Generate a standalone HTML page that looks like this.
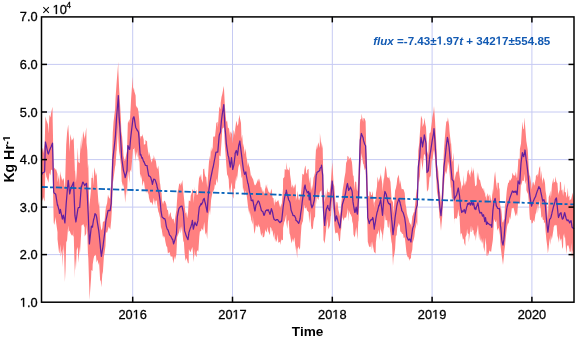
<!DOCTYPE html>
<html><head><meta charset="utf-8"><style>
html,body{margin:0;padding:0;background:#fff;}
body{width:575px;height:337px;overflow:hidden;}
svg{display:block;font-family:"Liberation Sans",sans-serif;will-change:transform;}
text.t{stroke:#000;stroke-width:0.3px;}
</style></head><body>
<svg width="575" height="337" viewBox="0 0 575 337">
<line x1="132.7" y1="16.9" x2="132.7" y2="302.2" stroke="#c6caf3" stroke-width="1"/>
<line x1="232.5" y1="16.9" x2="232.5" y2="302.2" stroke="#c6caf3" stroke-width="1"/>
<line x1="332.3" y1="16.9" x2="332.3" y2="302.2" stroke="#c6caf3" stroke-width="1"/>
<line x1="432.1" y1="16.9" x2="432.1" y2="302.2" stroke="#c6caf3" stroke-width="1"/>
<line x1="531.9" y1="16.9" x2="531.9" y2="302.2" stroke="#c6caf3" stroke-width="1"/>
<line x1="41.5" y1="254.6" x2="574.0" y2="254.6" stroke="#c6caf3" stroke-width="1"/>
<line x1="41.5" y1="207.1" x2="574.0" y2="207.1" stroke="#c6caf3" stroke-width="1"/>
<line x1="41.5" y1="159.6" x2="574.0" y2="159.6" stroke="#c6caf3" stroke-width="1"/>
<line x1="41.5" y1="112.0" x2="574.0" y2="112.0" stroke="#c6caf3" stroke-width="1"/>
<line x1="41.5" y1="64.4" x2="574.0" y2="64.4" stroke="#c6caf3" stroke-width="1"/>
<polygon points="41.5,147.4 42.6,148.7 43.1,153.3 44.6,143.9 44.7,144.2 45.4,116.3 46.3,120 47.9,124.3 48.4,133.7 49.5,114.7 50.5,117.4 51.1,113 52.5,106.8 52.7,122 53.7,170.2 54.3,167.5 55.6,170.1 55.9,168.6 57.5,173.9 57.5,182.6 59.1,174.3 59.5,186.2 60.4,171 60.7,174.3 62.3,181.2 62.4,180 63.3,177.9 63.9,179.7 64.9,190.2 65.5,169.3 66.2,144.8 67.1,132.6 68.2,124.4 68.7,132.4 69.7,151.9 70.3,134.1 71.6,140.2 71.9,140.5 73.5,137.9 73.6,135.5 74.9,171.3 75.1,170.2 75.9,182.8 76.7,172.8 77.8,147.3 78.3,162 79.7,163.3 79.9,155.5 81.3,136 81.5,149.4 82.6,138.7 83.1,130.9 84.6,137.9 84.7,139.3 86.3,127.2 86.5,142.7 87.3,150.4 87.9,168.2 88.3,163.4 89.4,214 89.5,205.2 91.1,188.3 91.4,177.7 92.5,178.1 92.7,170.9 93.5,185.6 94.3,167.3 95,170.7 95.9,175.9 96.6,172.5 97.5,189.7 98.7,205.7 99.1,201.2 100.2,222.3 100.7,226.1 101.4,230.5 102.3,228.1 102.9,222 103.9,221.3 104.5,221.2 105.5,210.5 106,207.1 107.1,202.9 108,194.6 108.7,196.9 110.1,198.9 110.3,190.5 111.2,184.6 111.9,161.6 112.8,132.6 113.5,122.3 115.1,108.9 115.5,98.6 116.5,84.4 116.7,81.8 118.3,61.7 118.3,69.8 119.1,87.8 119.9,101.6 120.9,118.5 121.5,136.4 121.7,131.3 123.1,149.6 123.5,155.7 124.7,161.1 125.2,159.8 126.3,153.9 127,151 127.9,120.7 127.9,123.2 129.5,119.1 129.7,123.9 130.6,108.6 131.1,98.7 132.7,76.8 133,90.4 133.9,87.3 134.3,91.3 135.6,95.5 135.9,105.2 137.4,108.4 137.5,106.5 138.5,112 139.1,118.3 139.3,120.8 140.2,138.9 140.7,135.9 142,136.6 142.3,133.9 143.7,139.6 143.9,144.8 145.4,144.1 145.5,140 147.1,141.4 147.2,144.8 148.7,156.6 148.9,151.4 150.3,156.8 150.7,159.5 151.9,162.8 152.4,158.7 153.5,158.5 153.8,155.1 155.1,161.3 155.5,158.3 156.7,166.9 157.3,169.2 158.3,165.5 159,172.5 159.9,182.9 160.2,183.9 161.1,192.8 161.5,192.3 162,200.3 163.1,204.5 163.7,201.5 164.7,200.6 165.4,202.1 166.3,204.5 167.2,210.2 167.9,209.5 168.9,217.6 169.5,214.5 170.7,211.9 171.1,216 172.4,219.5 172.7,219.3 173.6,218.5 174.3,224.1 175,219.1 175.9,212.7 176.4,210.2 177.3,196.2 177.5,192.4 178.5,188.2 179.1,184.2 180.2,183.1 180.7,185.8 182,181.5 182.3,179.7 183.3,191.5 183.9,197.3 184.6,204.7 185.5,213.6 186.3,212 187.1,218.2 188,212.7 188.7,201.8 188.9,200.3 190.3,201.4 190.7,195.8 191.9,192.6 192.4,189.3 193.3,190 193.5,203.1 195,186.5 195.1,192.6 196.7,189.8 196.7,194.9 198,194.3 198.3,186.3 199.3,175.5 199.9,178 201.1,173.7 201.5,179.1 202.8,183.1 203.1,169.2 204.2,168.5 204.7,173.7 205.4,176.6 206.3,177.3 207.2,187.8 207.9,177.5 208.6,166.9 209.5,155.6 210,161.8 211.1,146.6 211.5,151.8 212.7,147.6 213.2,137.1 214.3,136.1 214.9,137.6 215.9,128.3 216.3,122.9 217.5,121.7 217.8,127.9 219.1,109 219.3,106.3 220.5,109.4 220.7,103 221.5,97.1 222.3,94.1 223.8,86 223.9,86.7 224.9,106 225.5,113.2 226.3,122.1 227.1,120.6 228,128.4 228.7,127.4 229.1,128.9 230.3,138.1 230.3,131.3 231.5,133.9 231.9,130.9 232.7,143.5 233.5,131.1 233.9,130.1 235.1,135.5 235.1,129.8 236.3,120.9 236.7,121.8 237.5,126.3 238.3,123.8 238.7,119 239.9,114.6 239.9,118.1 241,123.1 241.5,138.9 242.2,134.4 243.1,147.6 243.4,143.2 244.6,152.4 244.7,154.6 245.8,148.3 246.3,156.1 247,160 247.9,166.6 248.2,161.9 249.4,167.4 249.5,166.1 251.1,177.4 251.1,174.8 252.7,178.9 252.8,178.1 254.3,184.2 255,185.5 255.9,184.4 256.8,182.5 257.5,180.7 258.2,178.5 259.1,182.8 259.6,178.3 260.7,187.2 261.4,187.3 262.3,192.6 262.8,189.1 263.9,193.1 264.3,195.5 265.5,184.1 265.7,188.9 267.1,183.9 267.1,187.1 268.5,191.6 268.7,191.9 270,193.1 270.3,193.2 271.4,188.6 271.9,191 272.5,197.6 273.5,198.3 274.2,206.1 275.1,198.8 275.7,202.6 276.7,201.7 277.8,200.4 278.3,199.9 279.9,206.8 280.1,207.9 281.5,203.2 281.6,206.9 283,188.6 283.1,178.4 284.4,177.1 284.7,169 286.3,169.9 286.3,161.9 287.3,169.2 287.9,169.5 288.7,170.4 289.5,166.6 290.1,174.8 291.1,182.2 291.5,187.8 292.7,184.2 293,189 294.3,184.4 294.4,188 295.8,183.3 295.9,200.7 297.2,194.9 297.5,190.8 298.7,199.4 299.1,200.5 300.1,196.4 300.7,195.8 301.5,187.3 302.3,174.3 302.9,173.7 303.9,175 304.4,169.7 305.1,166.2 305.5,165.4 306.2,172.5 307.1,174.1 307.2,170.1 308.6,168.8 308.7,174.9 309.3,183.4 310,177.4 310.3,177.6 311,190.9 311.9,185.6 311.9,189.5 312.9,184.2 313.5,177.8 314.3,175.6 315.1,171.9 315.3,162.2 316.2,145.1 316.7,150.1 317.2,148 318.3,142.3 319.8,148 319.9,133 321.5,148.1 321.5,141.3 322.7,148.4 323.1,167 323.5,183.6 324.7,202.2 324.7,202.4 326.1,189.5 326.3,197.3 327.8,187.7 327.9,191.7 329.5,192.6 329.6,192.5 330.8,183.5 331.1,179 332.2,161.9 332.7,168.4 333.6,183.7 334.3,186.3 335.3,201.2 335.9,208.2 336.5,201.7 337.5,202.4 338.3,209.4 339.1,212.7 340,216.4 340.7,209.6 341.2,204.2 342.3,194.1 342.6,190.4 343.9,182.3 344.3,178.7 345.5,171.9 346.1,163.1 347.1,160.4 347.5,155.8 348.7,157.1 348.7,159.7 350.3,157.4 350.4,157.1 351.9,162.1 352.2,164.9 353,175.9 353.5,175.2 354.8,190.6 355.1,181.4 356.2,182.1 356.7,189.1 357.4,191.5 358.3,179.2 358.6,172.2 359.7,136.4 359.9,124 360.3,119.4 361.4,118.4 361.5,113.6 363.1,122 363.5,118 364.7,118.4 365.6,121.5 366.3,149.3 366.6,155.1 367.3,169.6 367.8,194.4 367.9,195.5 369.3,196.8 369.5,191.3 370.6,191.9 371.1,195.5 371.9,194.7 372.7,191 373,195.9 374.3,208.3 374.3,202.9 375.6,199.2 375.9,193.5 377,186.6 377.5,176.5 378.9,182.6 379.1,180.4 380.7,174.7 380.7,172.7 382.3,184 382.5,191.8 383.8,177.6 383.9,179.9 384.9,169.9 385.5,165.6 386.2,168.9 387.1,177.1 387.7,177.6 388.7,178.2 389,176.1 390.3,181.9 390.3,179.3 391.7,201.2 391.9,200 393,202.5 393.5,213.5 394.5,199 395.1,190.5 395.8,188.4 396.7,184.2 397.3,178.5 398.3,175.8 398.7,174.6 399.9,184.6 400.2,180 401.5,188.3 401.8,189.3 403.1,188.9 403.7,189.7 404.7,192.9 405.5,203.8 406.3,207.9 406.8,213 407.9,217.2 408.3,218.1 409.5,222.7 409.7,222.8 411,225 411.1,228 412.3,216.6 412.7,215.6 413.8,212.2 414.3,212 415.3,202.3 415.9,196 416.6,190.2 417.3,186.7 417.5,179.2 418.3,150.4 419.1,144.4 419.6,137.4 420.7,121.7 421,115.6 422.3,119.3 422.5,127.1 423.9,123.1 424.3,117.4 425.5,125 426,127.1 427,148.3 427.1,151.1 428.3,154.9 428.7,143.8 429.5,133.5 430.3,132.3 430.5,132.9 431.9,121.8 432.3,117.5 433.5,111.6 434,105.9 435.1,122.1 435.2,124.3 436.1,140.1 436.7,152.8 437,164.3 438.2,171.1 438.3,172.1 439.6,191.8 439.9,191.6 441,202.5 441.5,198 442.2,186.5 443.1,168.5 443.9,150.4 444.7,139.6 445.7,127.4 446.3,121.6 447.4,121.3 447.9,117.2 449.1,124.9 449.5,131.3 450.9,144.1 451.1,142.9 452.1,159.2 452.7,161.9 453.5,152.6 454.3,179.5 454.3,181.3 455.9,173.5 456.6,171.6 457.5,171.7 458.3,163.1 459.1,172 459.5,175.5 460.6,182.7 460.7,180.6 461.7,190.1 462.3,184.4 463,186.4 463.9,174.9 464.2,185.9 465.4,180.4 465.5,185.2 466.6,180 467.1,174.7 467.6,171.3 468.7,169.6 468.7,172.5 469.9,175.6 470.3,177.5 470.6,172.9 471.6,170 471.9,166.2 472.5,173.9 473.5,169.3 473.6,167.3 474.6,179.5 475.1,185.8 475.8,186.2 476.7,184.3 477,171.2 478,178.7 478.3,172.5 479.1,180.6 479.9,179.1 480.3,181.4 481.4,186.6 481.5,186.3 482.5,188.9 483.1,187.9 483.5,189.8 484.7,193.8 484.7,188 485.5,197.6 486.3,195 486.5,201.1 487.4,194.3 487.9,193.3 488.4,196.8 489.5,194.3 489.5,204.1 490.7,194.4 491.1,201 491.8,199.7 492.7,188.4 492.9,194.6 493.9,182.3 494.3,177.6 495.1,171.3 495.9,180.1 496.3,183.5 497.3,190.7 497.5,182.7 498.8,182.8 499.1,187.8 499.6,189.2 500.4,211.1 500.7,204.5 501.8,214 502.3,221.5 503,222.8 503.9,219.4 504.3,219.2 505.2,200.4 505.5,205 506.7,191.6 507.1,188.2 508.2,182.6 508.7,183.1 509.7,179.6 510.3,180.8 511.9,177.8 512.4,172.5 513.5,175.2 514.1,175.6 515.1,175.8 515.9,171.6 516.7,177.8 517.1,177.4 518.1,163.9 518.3,158.8 519.7,158.8 519.9,149 521,143.6 521.5,135.5 522.4,121.5 523.1,128.5 523.7,129.4 524.7,117.3 525,124.4 526.3,140.7 526.4,141.4 527.7,149.6 527.9,152 529,171.9 529.5,175.6 530,175.8 531.1,183.5 531.6,189.7 532.7,182.5 533.3,181.7 534.3,185.7 535.7,179.1 535.9,176.1 537.5,173.9 537.8,177.6 539,169.3 539.1,168.2 540.1,165.9 540.7,179.3 541.4,170.4 542.3,184 542.7,180.2 543.9,177.1 543.9,178.2 545,182.9 545.5,190.8 546.3,195.5 547.1,207 547.9,218.6 548.7,197.1 549.6,195.1 550.3,190.6 550.9,198.2 551.9,185.7 552,184.4 553.5,177.7 553.7,182.7 555.1,181.6 555.3,176.2 556.4,181.6 556.7,182.4 557.4,182.9 558.3,195.3 558.5,193.4 559.7,189.8 559.9,181.5 561,182.5 561.5,190.8 562.3,189.2 563.1,196 563.4,193.2 564.6,183.3 564.7,191.7 565.9,192.6 566.3,198.1 567.2,194.3 567.9,187.5 568.3,196.9 569.5,195.5 569.5,200.4 570.8,199.3 571.1,199.5 572.1,195.6 572.7,192.6 574,201.1 574,256.1 572.7,250 572.1,259.4 571.1,242.8 570.8,251.8 569.5,251.4 569.5,249.8 568.3,245 567.9,246.2 567.2,244.8 566.3,254 565.9,247.6 564.7,232.8 564.6,238.5 563.4,234.1 563.1,246.7 562.3,249 561.5,239.6 561,238.3 559.9,241.6 559.7,233.4 558.5,243.1 558.3,238.9 557.4,235.8 556.7,225.9 556.4,224.9 555.3,225.4 555.1,224.5 553.7,226.9 553.5,229.6 552,238.7 551.9,240.2 550.9,235.2 550.3,244.9 549.6,238 548.7,247.4 547.9,253.4 547.1,245 546.3,239.2 545.5,230 545,222.1 543.9,223.4 543.9,220.2 542.7,219.5 542.3,216.3 541.4,217.9 540.7,209 540.1,205.9 539.1,200.3 539,202.5 537.8,213.5 537.5,205 535.9,214.6 535.7,212.8 534.3,222.3 533.3,220.1 532.7,223 531.6,223.5 531.1,219.4 530,220.2 529.5,214.3 529,203.5 527.9,192.3 527.7,194 526.4,190.3 526.3,180.1 525,184.6 524.7,173.8 523.7,181 523.1,181 522.4,180.2 521.5,185.7 521,182.3 519.9,204.2 519.7,203.5 518.3,202.3 518.1,202.3 517.1,216.6 516.7,212.8 515.9,216.5 515.1,214.2 514.1,209.9 513.5,207.4 512.4,208.6 511.9,207.8 510.3,219.8 509.7,216.5 508.7,224.2 508.2,222.3 507.1,226.4 506.7,229.2 505.5,240 505.2,244.5 504.3,251.8 503.9,256.3 503,265.1 502.3,259.5 501.8,256.3 500.7,246.9 500.4,243.7 499.6,229.3 499.1,235.1 498.8,227.8 497.5,229.7 497.3,230.9 496.3,219.8 495.9,222.2 495.1,221.5 494.3,219.1 493.9,221.9 492.9,239.2 492.7,241.1 491.8,246.7 491.1,252.1 490.7,251.4 489.5,250.9 489.5,248.9 488.4,255.7 487.9,251.9 487.4,256 486.5,255.4 486.3,245.8 485.5,237.6 484.7,249.4 484.7,252.2 483.5,247 483.1,238.1 482.5,244.2 481.5,237.9 481.4,243.1 480.3,239.2 479.9,233.5 479.1,240.2 478.3,229.3 478,224.7 477,231.6 476.7,231.9 475.8,241.1 475.1,232.6 474.6,236.7 473.6,233.2 473.5,230.2 472.5,230.4 471.9,225.7 471.6,232.1 470.6,231.8 470.3,225.5 469.9,233.2 468.7,242.5 468.7,234.1 467.6,233.2 467.1,228.7 466.6,234.8 465.5,237.2 465.4,245.9 464.2,243.1 463.9,238.3 463,240.1 462.3,236 461.7,233.2 460.7,233.8 460.6,237.5 459.5,215.7 459.1,216.1 458.3,209.1 457.5,216.1 456.6,219.1 455.9,218.1 454.3,219 454.3,225 453.5,199.3 452.7,198 452.1,201.7 451.1,186.7 450.9,188.4 449.5,172.6 449.1,166.5 447.9,160.9 447.4,167.4 446.3,174.3 445.7,171.1 444.7,176.4 443.9,186.9 443.1,200.6 442.2,217.2 441.5,224.6 441,231 439.9,218.2 439.6,218.5 438.3,201.5 438.2,198.5 437,191.7 436.7,187.5 436.1,174 435.2,162.5 435.1,158.5 434,149.5 433.5,152.3 432.3,161.2 431.9,158.3 430.5,178.6 430.3,175.7 429.5,177.5 428.7,186.5 428.3,189.5 427.1,191.5 427,192.6 426,163.9 425.5,156.4 424.3,153.8 423.9,155.3 422.5,170.8 422.3,167.3 421,157.2 420.7,160 419.6,182.7 419.1,176.6 418.3,186.7 417.5,209.3 417.3,226 416.6,222 415.9,226.9 415.3,229 414.3,237 413.8,239.2 412.7,243.1 412.3,249.6 411.1,254.8 411,258.2 409.7,258.9 409.5,261.1 408.3,256.7 407.9,257.5 406.8,254.8 406.3,251.6 405.5,243.4 404.7,237.2 403.7,238.1 403.1,234.3 401.8,233.4 401.5,232.6 400.2,231.3 399.9,225.9 398.7,223 398.3,224.9 397.3,227.6 396.7,234.9 395.8,236.3 395.1,248.8 394.5,253.5 393.5,257.8 393,266.1 391.9,241.8 391.7,243.9 390.3,231.4 390.3,233 389,219.9 388.7,228.1 387.7,226.7 387.1,219.8 386.2,220.5 385.5,220 384.9,213.8 383.9,230.8 383.8,227.4 382.5,242 382.3,235 380.7,229.2 380.7,226.1 379.1,240 378.9,229.8 377.5,234.4 377,233.3 375.9,242.6 375.6,253.7 374.3,251.7 374.3,253.5 373,245.9 372.7,241.3 371.9,250.1 371.1,241.6 370.6,247 369.5,246.6 369.3,247.5 367.9,242.1 367.8,242.4 367.3,222.8 366.6,199.8 366.3,193 365.6,167.8 364.7,170.2 363.5,163.9 363.1,163.8 361.5,153.1 361.4,155.4 360.3,168.7 359.9,178.5 359.7,184.7 358.6,220.9 358.3,221.4 357.4,239.9 356.7,231.4 356.2,226.9 355.1,235.4 354.8,237.5 353.5,234.4 353,224.1 352.2,221.3 351.9,217.2 350.4,213.7 350.3,214.6 348.7,210.1 348.7,221.7 347.5,207.8 347.1,212.9 346.1,217.8 345.5,217.6 344.3,217.7 343.9,221.1 342.6,217.7 342.3,215 341.2,229.1 340.7,231.1 340,240.7 339.1,241.2 338.3,235 337.5,232.4 336.5,233.1 335.9,232.6 335.3,234 334.3,225.1 333.6,213 332.7,205.9 332.2,196.9 331.1,215.6 330.8,216.2 329.6,228.7 329.5,225.7 327.9,230.1 327.8,219.1 326.3,227.2 326.1,230.4 324.7,242.8 324.7,243.8 323.5,239.9 323.1,211.8 322.7,205.1 321.5,192.2 321.5,190.3 319.9,192.1 319.8,193.3 318.3,200.2 317.2,197 316.7,204.8 316.2,192.2 315.3,208 315.1,216.7 314.3,217.8 313.5,221.8 312.9,228.7 311.9,229 311.9,230.5 311,225.4 310.3,210.8 310,214.9 309.3,223.5 308.7,214.1 308.6,212.3 307.2,210.5 307.1,210.9 306.2,206.7 305.5,208.8 305.1,208 304.4,204.8 303.9,210.2 302.9,221.2 302.3,222.4 301.5,225.5 300.7,237 300.1,247.8 299.1,249.8 298.7,246.3 297.5,249.1 297.2,258.4 295.9,245.4 295.8,250.5 294.4,237.5 294.3,237.6 293,242.5 292.7,238.3 291.5,243.6 291.1,241 290.1,234.9 289.5,233.2 288.7,220.2 287.9,220.8 287.3,229.1 286.3,222 286.3,214.3 284.7,221.8 284.4,221.2 283.1,228 283,239.7 281.6,240.6 281.5,238.6 280.1,245.1 279.9,241.8 278.3,242.8 277.8,234.2 276.7,242.2 275.7,238.4 275.1,242 274.2,232.4 273.5,237.9 272.5,229.9 271.9,232.1 271.4,228.4 270.3,226.7 270,235.2 268.7,232.2 268.5,232 267.1,227 267.1,232.7 265.7,230.6 265.5,229 264.3,236.3 263.9,236.9 262.8,237.4 262.3,232.5 261.4,236.2 260.7,233.6 259.6,226.1 259.1,227.3 258.2,223.9 257.5,227.6 256.8,226.8 255.9,224.7 255,231.4 254.3,234.1 252.8,215.1 252.7,224.4 251.1,219.2 251.1,218.3 249.5,210.2 249.4,214.9 248.2,207.7 247.9,205.4 247,197.7 246.3,192.9 245.8,190.4 244.7,195.5 244.6,194.7 243.4,187.6 243.1,192 242.2,175.9 241.5,178.4 241,172.4 239.9,164.8 239.9,163.6 238.7,165.9 238.3,167.7 237.5,175.5 236.7,181.4 236.3,175.6 235.1,185.1 235.1,189.5 233.9,188.1 233.5,198.8 232.7,196.6 231.9,185.1 231.5,182.3 230.3,192.2 230.3,194.3 229.1,187.5 228.7,179.6 228,176.2 227.1,174.5 226.3,165.1 225.5,153.5 224.9,146.5 223.9,125.9 223.8,127.6 222.3,128.7 221.5,142.2 220.7,153.2 220.5,156.5 219.3,155.3 219.1,164.7 217.8,178.8 217.5,183.2 216.3,178.4 215.9,185.8 214.9,184.1 214.3,188.8 213.2,191.5 212.7,191.5 211.5,197.6 211.1,200 210,215.8 209.5,209.4 208.6,214.6 207.9,222.7 207.2,239.2 206.3,232.2 205.4,234.7 204.7,227.1 204.2,221.9 203.1,230.9 202.8,230.1 201.5,228.3 201.1,230.9 199.9,231.5 199.3,236.8 198.3,252.4 198,250 196.7,251.7 196.7,257.2 195.1,254.4 195,248.8 193.5,262.2 193.3,256.8 192.4,247 191.9,248.3 190.7,251.4 190.3,252.2 188.9,249 188.7,263 188,263.4 187.1,259.9 186.3,258.1 185.5,260.9 184.6,252.9 183.9,241.9 183.3,241.3 182.3,231.2 182,226.1 180.7,233.5 180.2,227.1 179.1,232.2 178.5,233.4 177.5,236.9 177.3,233.6 176.4,254.5 175.9,256 175,259.9 174.3,256 173.6,263.4 172.7,259 172.4,256.4 171.1,256.6 170.7,256.6 169.5,251.9 168.9,252.5 167.9,253.6 167.2,247.2 166.3,245.9 165.4,241.8 164.7,237.6 163.7,235.4 163.1,238 162,231.4 161.5,227 161.1,229.8 160.2,217.8 159.9,217.2 159,213.2 158.3,211.5 157.3,205.5 156.7,200.4 155.5,200.7 155.1,205.7 153.8,197.8 153.5,200 152.4,205.5 151.9,202.7 150.7,202.3 150.3,202.8 148.9,197.6 148.7,195 147.2,190.5 147.1,193.5 145.5,188.5 145.4,193 143.9,180.8 143.7,180.9 142.3,186.3 142,180 140.7,173.8 140.2,178.5 139.3,158.2 139.1,161.9 138.5,158.5 137.5,149.6 137.4,157.8 135.9,151.2 135.6,161.9 134.3,147.4 133.9,148.9 133,149.3 132.7,152.7 131.1,172.4 130.6,169.6 129.7,172.4 129.5,183.3 127.9,169.8 127.9,171.8 127,196 126.3,187.8 125.2,203 124.7,195.6 123.5,184.1 123.1,187.1 121.7,181.3 121.5,175.7 120.9,165.1 119.9,156.3 119.1,151.6 118.3,138.2 118.3,122.2 116.7,150.5 116.5,151.1 115.5,165 115.1,166.5 113.5,179 112.8,183.4 111.9,209.2 111.2,220.4 110.3,229.5 110.1,229.2 108.7,226.4 108,229.4 107.1,232.8 106,232.2 105.5,245.8 104.5,253.6 103.9,256.5 102.9,271.7 102.3,274.4 101.4,287.2 100.7,279.9 100.2,281.3 99.1,262 98.7,265 97.5,259.5 96.6,262.4 95.9,254.4 95,256 94.3,255.6 93.5,258.9 92.7,264.5 92.5,271 91.4,270.1 91.1,277.7 89.5,300.2 89.4,292.7 88.3,258 87.9,253 87.3,233.1 86.5,224.6 86.3,233.4 84.7,236.4 84.6,227.5 83.1,223.7 82.6,225.1 81.5,225.5 81.3,231.2 79.9,254.4 79.7,246.8 78.3,263 77.8,247 76.7,249.9 75.9,270.6 75.1,258.5 74.9,278.6 73.6,229.3 73.5,236.7 71.9,234.2 71.6,235.8 70.3,232.8 69.7,230.4 68.7,231.9 68.2,225.6 67.1,240.3 66.2,242.5 65.5,269.7 64.9,282 63.9,244.8 63.3,251.8 62.4,267.3 62.3,249 60.7,256.7 60.4,244.3 59.5,252.8 59.1,253.2 57.5,239.2 57.5,232.3 55.9,220.9 55.6,216.9 54.3,224.9 53.7,222.4 52.7,174.8 52.5,170.5 51.1,169.6 50.5,175.5 49.5,172.8 48.4,183.1 47.9,180.8 46.3,176.4 45.4,170.1 44.7,195.7 44.6,201.8 43.1,197.1 42.6,201.3 41.5,197.3" fill="#ff8080" stroke="none"/>
<polyline points="41.5,175 42.6,173 43.1,172.5 44.6,172 44.7,167.9 45.4,142 46.3,145.6 47.9,153.1 48.4,154 49.5,150.4 50.5,148 51.1,146.8 52.5,143.1 52.7,150.5 53.7,192 54.3,193.2 55.6,194 55.9,195.4 57.5,205.5 57.5,204.5 59.1,210.3 59.5,213.3 60.4,209.4 60.7,211.1 62.3,218.6 62.4,219 63.3,215.2 63.9,217.7 64.9,222.9 65.5,214.1 66.2,203.6 67.1,192.8 68.2,180.4 68.7,184.3 69.7,194 70.3,190.9 71.6,186.2 71.9,186.3 73.5,182.1 73.6,182.4 74.9,215.2 75.1,216.6 75.9,222 76.7,216.8 77.8,209.4 78.3,207.7 79.7,207.5 79.9,204.9 81.3,186.2 81.5,187.2 82.6,182.4 83.1,182.2 84.6,185.3 84.7,185.7 86.3,183.4 86.5,183.3 87.3,195 87.9,208 88.3,215.8 89.4,243.9 89.5,243.2 91.1,228.5 91.4,226.2 92.5,227.2 92.7,225.3 93.5,220 94.3,217.4 95,213.7 95.9,214.4 96.6,216.8 97.5,223.1 98.7,230.3 99.1,233.8 100.2,244.9 100.7,250.7 101.4,256.3 102.3,250.5 102.9,247 103.9,239 104.5,234.5 105.5,224.5 106,220 107.1,215.1 108,210.6 108.7,210.4 110.1,210.6 110.3,209.3 111.2,203.3 111.9,185.3 112.8,160 113.5,153.5 115.1,139.2 115.5,135 116.5,118.4 116.7,116 118.3,96.5 118.3,95.5 119.1,116.7 119.9,126.9 120.9,142.8 121.5,154 121.7,158 123.1,167.9 123.5,170.6 124.7,174.9 125.2,177.7 126.3,173.5 127,170.6 127.9,145.7 127.9,145.5 129.5,149.4 129.7,149.2 130.6,138.6 131.1,134.3 132.7,121 133,118.4 133.9,116.7 134.3,118.4 135.6,127 135.9,127.8 137.4,130.6 137.5,130.3 138.5,132.3 139.1,138.6 139.3,142.8 140.2,155 140.7,154.2 142,158.4 142.3,157.6 143.7,161.9 143.9,161.6 145.4,165.2 145.5,165.4 147.1,165.7 147.2,167 148.7,175.8 148.9,175.7 150.3,176.8 150.7,177.4 151.9,181.5 152.4,184.3 153.5,179.8 153.8,179.1 155.1,179.8 155.5,180.9 156.7,184.5 157.3,187.8 158.3,190.7 159,193 159.9,199.5 160.2,201.7 161.1,211.7 161.5,213.6 162,217 163.1,217.8 163.7,218.7 164.7,218.6 165.4,220.4 166.3,226.1 167.2,229.1 167.9,229.7 168.9,232.6 169.5,234.9 170.7,236.1 171.1,236.8 172.4,239.6 172.7,239.3 173.6,243.9 174.3,241.7 175,239.6 175.9,235.6 176.4,234.3 177.3,217 177.5,215.8 178.5,210.4 179.1,208.2 180.2,207 180.7,206.3 182,206.1 182.3,207.5 183.3,212.2 183.9,220.4 184.6,230.9 185.5,233.4 186.3,236.1 187.1,237.8 188,239.6 188.7,234.7 188.9,232.6 190.3,228.1 190.7,227.4 191.9,223.2 192.4,220.4 193.3,229.1 193.5,228.7 195,222.2 195.1,223.1 196.7,225.7 196.7,225.3 198,220.4 198.3,216.3 199.3,207 199.9,206.2 201.1,203.5 201.5,204.6 202.8,201.7 203.1,200.1 204.2,198.3 204.7,201.1 205.4,203.5 206.3,207.8 207.2,212.2 207.9,200.8 208.6,192 209.5,185.8 210,182 211.1,176.3 211.5,174.5 212.7,168.5 213.2,167 214.3,161 214.9,158 215.9,152.4 216.3,152 217.5,152 217.8,152 219.1,136.5 219.3,135 220.5,132 220.7,128.9 221.5,120 222.3,114.1 223.8,104.7 223.9,107 224.9,127 225.5,132.9 226.3,143.3 227.1,148.8 228,155.2 228.7,157.1 229.1,160 230.3,167.1 230.3,167 231.5,157.6 231.9,161.3 232.7,169.5 233.5,166.3 233.9,164.8 235.1,155.2 235.1,153.6 236.3,150.5 236.7,151.6 237.5,155.2 238.3,148.9 238.7,145.7 239.9,141 239.9,141.9 241,150.5 241.5,154.5 242.2,160 243.1,167.2 243.4,169.5 244.6,174.3 244.7,174.3 245.8,171.9 246.3,175.3 247,179 247.9,183.5 248.2,183.8 249.4,191 249.5,191.5 251.1,198.9 251.1,200.3 252.7,200.9 252.8,199.8 254.3,208.1 255,211 255.9,205.3 256.8,203.7 257.5,202.2 258.2,200.8 259.1,201.8 259.6,203.7 260.7,207.7 261.4,210.5 262.3,211.4 262.8,211.5 263.9,215.4 264.3,215.1 265.5,211.1 265.7,210.8 267.1,209.8 267.1,210.6 268.5,209.8 268.7,210.9 270,214.4 270.3,213.4 271.4,208.7 271.9,210.1 272.5,212.2 273.5,217.6 274.2,219.4 275.1,220 275.7,220.4 276.7,219.6 277.8,219.7 278.3,220.8 279.9,222.5 280.1,222.7 281.5,220.7 281.6,221.5 283,208.5 283.1,207.5 284.4,198.5 284.7,197.2 286.3,191.4 286.3,190.1 287.3,195 287.9,196.5 288.7,200 289.5,201.1 290.1,203 291.1,210.1 291.5,211.3 292.7,214.3 293,215.6 294.3,215.6 294.4,215.6 295.8,218.5 295.9,220.3 297.2,221.3 297.5,221.6 298.7,223.4 299.1,222.3 300.1,218.5 300.7,213.3 301.5,208.5 302.3,201.3 302.9,197.1 303.9,191.7 304.4,187.1 305.1,185 305.5,188.4 306.2,190 307.1,192 307.2,192.8 308.6,191.4 308.7,193.8 309.3,200 310,192.8 310.3,195.5 311,204.2 311.9,207.8 311.9,207.6 312.9,205.6 313.5,203.4 314.3,200 315.1,190.8 315.3,188.5 316.2,175 316.7,173.9 317.2,172 318.3,171.7 319.8,170.2 319.9,168.6 321.5,166.7 321.5,165.1 322.7,175.4 323.1,193.7 323.5,210.6 324.7,225.4 324.7,224 326.1,210.6 326.3,209.4 327.8,205.4 327.9,207.5 329.5,210.5 329.6,210.6 330.8,198.4 331.1,194.6 332.2,181 332.7,186.3 333.6,198.4 334.3,206.8 335.3,221 335.9,219.3 336.5,215.8 337.5,219.3 338.3,222.8 339.1,225.1 340,228 340.7,220.6 341.2,215.8 342.3,205.1 342.6,203.7 343.9,199.5 344.3,198.4 345.5,193.6 346.1,190 347.1,184.7 347.5,183.5 348.7,190.4 348.7,190.1 350.3,188 350.4,187 351.9,190.4 352.2,192.2 353,201.9 353.5,205.2 354.8,212.3 355.1,212.3 356.2,207.1 356.7,211.1 357.4,214.1 358.3,200.8 358.6,196.7 359.7,157.4 359.9,151.5 360.3,140 361.4,133.5 361.5,134 363.1,137.7 363.5,140.4 364.7,144.2 365.6,145.7 366.3,166.9 366.6,174.8 367.3,198 367.8,218.1 367.9,218.1 369.3,223.6 369.5,222.6 370.6,220 371.1,219.7 371.9,219.9 372.7,217.5 373,218 374.3,229.1 374.3,227.9 375.6,220.8 375.9,218.5 377,212.6 377.5,211.3 378.9,205.2 379.1,205.8 380.7,199.7 380.7,200 382.3,213.4 382.5,215.3 383.8,199.7 383.9,198.8 384.9,191.4 385.5,192.7 386.2,194.2 387.1,198.5 387.7,201.5 388.7,203.7 389,203.4 390.3,205.2 390.3,203.8 391.7,219.9 391.9,221.3 393,234.6 393.5,230.9 394.5,223.6 395.1,217.3 395.8,212.6 396.7,206.5 397.3,203.4 398.3,200.4 398.7,198.8 399.9,201.9 400.2,203.4 401.5,208.7 401.8,210.7 403.1,212.5 403.7,214.4 404.7,218 405.5,223.6 406.3,231.3 406.8,236.5 407.9,239.1 408.3,240.1 409.5,239.2 409.7,239 411,242 411.1,239.9 412.3,231 412.7,228.4 413.8,225.4 414.3,222.4 415.3,214.4 415.9,209.9 416.6,207.1 417.3,205 417.5,195.2 418.3,167.4 419.1,160.8 419.6,158 420.7,141 421,137.4 422.3,144.5 422.5,147 423.9,138.6 424.3,134.8 425.5,140.6 426,143.5 427,172.6 427.1,172.2 428.3,170.9 428.7,166.8 429.5,158.7 430.3,152.6 430.5,152.2 431.9,142.7 432.3,140 433.5,133.5 434,128.7 435.1,143.2 435.2,145.2 436.1,160 436.7,170.1 437,176.1 438.2,184.8 438.3,186.7 439.6,205 439.9,207.5 441,215.7 441.5,210 442.2,203.5 443.1,184.2 443.9,167.4 444.7,160.8 445.7,152.2 446.3,145.9 447.4,137.4 447.9,139.1 449.1,147 449.5,151.3 450.9,167.4 451.1,169.5 452.1,179.6 452.7,180.2 453.5,181.3 454.3,200 454.3,199.2 455.9,196.3 456.6,195 457.5,191.4 458.3,188 459.1,193.1 459.5,195.4 460.6,207.3 460.7,207.4 461.7,212.5 462.3,210.8 463,211.7 463.9,210.2 464.2,209.5 465.4,213.2 465.5,212.2 466.6,207.3 467.1,206 467.6,203.6 468.7,204.3 468.7,203.1 469.9,202.8 470.3,205 470.6,205 471.6,202.1 471.9,201.8 472.5,205 473.5,202.9 473.6,202.8 474.6,208.8 475.1,207.9 475.8,209.5 476.7,206.2 477,205.8 478,202.8 478.3,205.1 479.1,210.3 479.9,213 480.3,212.5 481.4,213.2 481.5,212.5 482.5,216.2 483.1,215.6 483.5,214.7 484.7,220.7 484.7,221.5 485.5,217.7 486.3,223 486.5,224.4 487.4,222.1 487.9,223.7 488.4,223.6 489.5,224.4 489.5,224.7 490.7,225.1 491.1,224.6 491.8,227.3 492.7,213.3 492.9,210.3 493.9,202.8 494.3,201 495.1,198.4 495.9,202.6 496.3,205.8 497.3,207.3 497.5,208.2 498.8,208.8 499.1,208.3 499.6,208.7 500.4,226.1 500.7,226.9 501.8,240 502.3,242.6 503,245.2 503.9,239.4 504.3,234.8 505.2,222 505.5,219.6 506.7,209 507.1,207 508.2,203 508.7,202.3 509.7,198.6 510.3,196.8 511.9,192.4 512.4,191 513.5,192.3 514.1,191.3 515.1,192.3 515.9,191 516.7,193.4 517.1,194.8 518.1,180.9 518.3,182.1 519.7,184 519.9,180.1 521,163.4 521.5,159.1 522.4,152.7 523.1,155.7 523.7,156.7 524.7,151.9 525,150 526.3,160.8 526.4,160.7 527.7,171.4 527.9,173.1 529,187.4 529.5,192 530,196.3 531.1,203.6 531.6,206.1 532.7,202.2 533.3,201.2 534.3,198.9 535.7,196.3 535.9,195.2 537.5,190.4 537.8,189.8 539,186.5 539.1,188.3 540.1,188.2 540.7,191.4 541.4,194.7 542.3,199.1 542.7,201.2 543.9,199.6 543.9,200 545,202.8 545.5,207.1 546.3,217.5 547.1,225.4 547.9,232.2 548.7,226 549.6,219.2 550.3,218.8 550.9,217.5 551.9,213.4 552,212.6 553.5,206.6 553.7,206.1 555.1,201.3 555.3,199.6 556.4,197.9 556.7,200.6 557.4,207.7 558.3,216.3 558.5,217.5 559.7,214.3 559.9,213.7 561,212.6 561.5,215.9 562.3,219.2 563.1,218.5 563.4,217.5 564.6,212.6 564.7,212.7 565.9,217.5 566.3,218.9 567.2,220.8 567.9,219.9 568.3,220 569.5,222.4 569.5,222.9 570.8,220.8 571.1,220.7 572.1,227.3 572.7,227.7 574,229" fill="none" stroke="#6220a0" stroke-width="1.25" stroke-linejoin="round"/>
<line x1="41.5" y1="187.0" x2="574.0" y2="204.4" stroke="#0964bb" stroke-width="1.8" stroke-dasharray="6.3 2.2 3 2.8"/>
<rect x="41.5" y="16.9" width="532.5" height="285.3" fill="none" stroke="#000" stroke-width="1.5"/>
<line x1="132.7" y1="302.2" x2="132.7" y2="296.7" stroke="#000" stroke-width="1.5"/>
<line x1="132.7" y1="16.9" x2="132.7" y2="22.4" stroke="#000" stroke-width="1.5"/>
<line x1="232.5" y1="302.2" x2="232.5" y2="296.7" stroke="#000" stroke-width="1.5"/>
<line x1="232.5" y1="16.9" x2="232.5" y2="22.4" stroke="#000" stroke-width="1.5"/>
<line x1="332.3" y1="302.2" x2="332.3" y2="296.7" stroke="#000" stroke-width="1.5"/>
<line x1="332.3" y1="16.9" x2="332.3" y2="22.4" stroke="#000" stroke-width="1.5"/>
<line x1="432.1" y1="302.2" x2="432.1" y2="296.7" stroke="#000" stroke-width="1.5"/>
<line x1="432.1" y1="16.9" x2="432.1" y2="22.4" stroke="#000" stroke-width="1.5"/>
<line x1="531.9" y1="302.2" x2="531.9" y2="296.7" stroke="#000" stroke-width="1.5"/>
<line x1="531.9" y1="16.9" x2="531.9" y2="22.4" stroke="#000" stroke-width="1.5"/>
<line x1="41.5" y1="254.6" x2="47.0" y2="254.6" stroke="#000" stroke-width="1.5"/>
<line x1="574.0" y1="254.6" x2="568.5" y2="254.6" stroke="#000" stroke-width="1.5"/>
<line x1="41.5" y1="207.1" x2="47.0" y2="207.1" stroke="#000" stroke-width="1.5"/>
<line x1="574.0" y1="207.1" x2="568.5" y2="207.1" stroke="#000" stroke-width="1.5"/>
<line x1="41.5" y1="159.6" x2="47.0" y2="159.6" stroke="#000" stroke-width="1.5"/>
<line x1="574.0" y1="159.6" x2="568.5" y2="159.6" stroke="#000" stroke-width="1.5"/>
<line x1="41.5" y1="112.0" x2="47.0" y2="112.0" stroke="#000" stroke-width="1.5"/>
<line x1="574.0" y1="112.0" x2="568.5" y2="112.0" stroke="#000" stroke-width="1.5"/>
<line x1="41.5" y1="64.4" x2="47.0" y2="64.4" stroke="#000" stroke-width="1.5"/>
<line x1="574.0" y1="64.4" x2="568.5" y2="64.4" stroke="#000" stroke-width="1.5"/>
<text class="t" x="132.7" y="318.8" font-size="12.8" text-anchor="middle">20 6</text>
<text class="t" x="232.5" y="318.8" font-size="12.8" text-anchor="middle">20 7</text>
<text class="t" x="332.3" y="318.8" font-size="12.8" text-anchor="middle">20 8</text>
<text class="t" x="432.1" y="318.8" font-size="12.8" text-anchor="middle">20 9</text>
<text class="t" x="531.9" y="318.8" font-size="12.8" text-anchor="middle">2020</text>
<text class="t" x="37.6" y="306.7" font-size="12.8" text-anchor="end"> .0</text>
<text class="t" x="37.6" y="259.1" font-size="12.8" text-anchor="end">2.0</text>
<text class="t" x="37.6" y="211.6" font-size="12.8" text-anchor="end">3.0</text>
<text class="t" x="37.6" y="164.1" font-size="12.8" text-anchor="end">4.0</text>
<text class="t" x="37.6" y="116.5" font-size="12.8" text-anchor="end">5.0</text>
<text class="t" x="37.6" y="68.9" font-size="12.8" text-anchor="end">6.0</text>
<text class="t" x="37.6" y="21.4" font-size="12.8" text-anchor="end">7.0</text>
<text x="46.1" y="15.1" font-size="14" text-anchor="middle">×</text>
<text class="t" x="52.6" y="13.9" font-size="12.8"> 0</text>
<text class="t" x="66.2" y="7.5" font-size="8.6">4</text>
<text x="307.6" y="336.2" font-size="13.6" font-weight="bold" text-anchor="middle">Time</text>
<text transform="translate(14.3,159) rotate(-90)" font-size="14" font-weight="bold" text-anchor="middle">Kg Hr<tspan font-size="10" dy="-4.3">- </tspan></text>
<text x="373.2" y="44.6" font-size="11.6" font-weight="bold" fill="#125ab3"><tspan font-style="italic">flux</tspan> =-7.43± .97<tspan font-style="italic">t</tspan> + 342 7±554.85</text>
<path transform="translate(132.68,318.80) scale(0.006250,-0.006250)" d="M515 0L515 1237L197 1010L197 1180L530 1409L696 1409L696 0Z" fill="rgb(0, 0, 0)" stroke="rgb(0, 0, 0)" stroke-width="0.3px" vector-effect="non-scaling-stroke"/>
<path transform="translate(232.48,318.80) scale(0.006250,-0.006250)" d="M515 0L515 1237L197 1010L197 1180L530 1409L696 1409L696 0Z" fill="rgb(0, 0, 0)" stroke="rgb(0, 0, 0)" stroke-width="0.3px" vector-effect="non-scaling-stroke"/>
<path transform="translate(332.28,318.80) scale(0.006250,-0.006250)" d="M515 0L515 1237L197 1010L197 1180L530 1409L696 1409L696 0Z" fill="rgb(0, 0, 0)" stroke="rgb(0, 0, 0)" stroke-width="0.3px" vector-effect="non-scaling-stroke"/>
<path transform="translate(432.08,318.80) scale(0.006250,-0.006250)" d="M515 0L515 1237L197 1010L197 1180L530 1409L696 1409L696 0Z" fill="rgb(0, 0, 0)" stroke="rgb(0, 0, 0)" stroke-width="0.3px" vector-effect="non-scaling-stroke"/>
<path transform="translate(19.80,306.70) scale(0.006250,-0.006250)" d="M515 0L515 1237L197 1010L197 1180L530 1409L696 1409L696 0Z" fill="rgb(0, 0, 0)" stroke="rgb(0, 0, 0)" stroke-width="0.3px" vector-effect="non-scaling-stroke"/>
<path transform="translate(52.60,13.90) scale(0.006250,-0.006250)" d="M515 0L515 1237L197 1010L197 1180L530 1409L696 1409L696 0Z" fill="rgb(0, 0, 0)" stroke="rgb(0, 0, 0)" stroke-width="0.3px" vector-effect="non-scaling-stroke"/>
<g transform="translate(14.3,159) rotate(-90)"><path transform="translate(17.94,-4.30) scale(0.004883,-0.004883)" d="M478 0L478 1170L140 959L140 1180L493 1409L759 1409L759 0Z" fill="rgb(0, 0, 0)"/></g>
<path transform="translate(436.59,44.60) scale(0.005664,-0.005664)" d="M478 0L478 1170L140 959L140 1180L493 1409L759 1409L759 0Z" fill="rgb(18, 90, 179)"/>
<path transform="translate(495.61,44.60) scale(0.005664,-0.005664)" d="M478 0L478 1170L140 959L140 1180L493 1409L759 1409L759 0Z" fill="rgb(18, 90, 179)"/>
</svg>
</body></html>
